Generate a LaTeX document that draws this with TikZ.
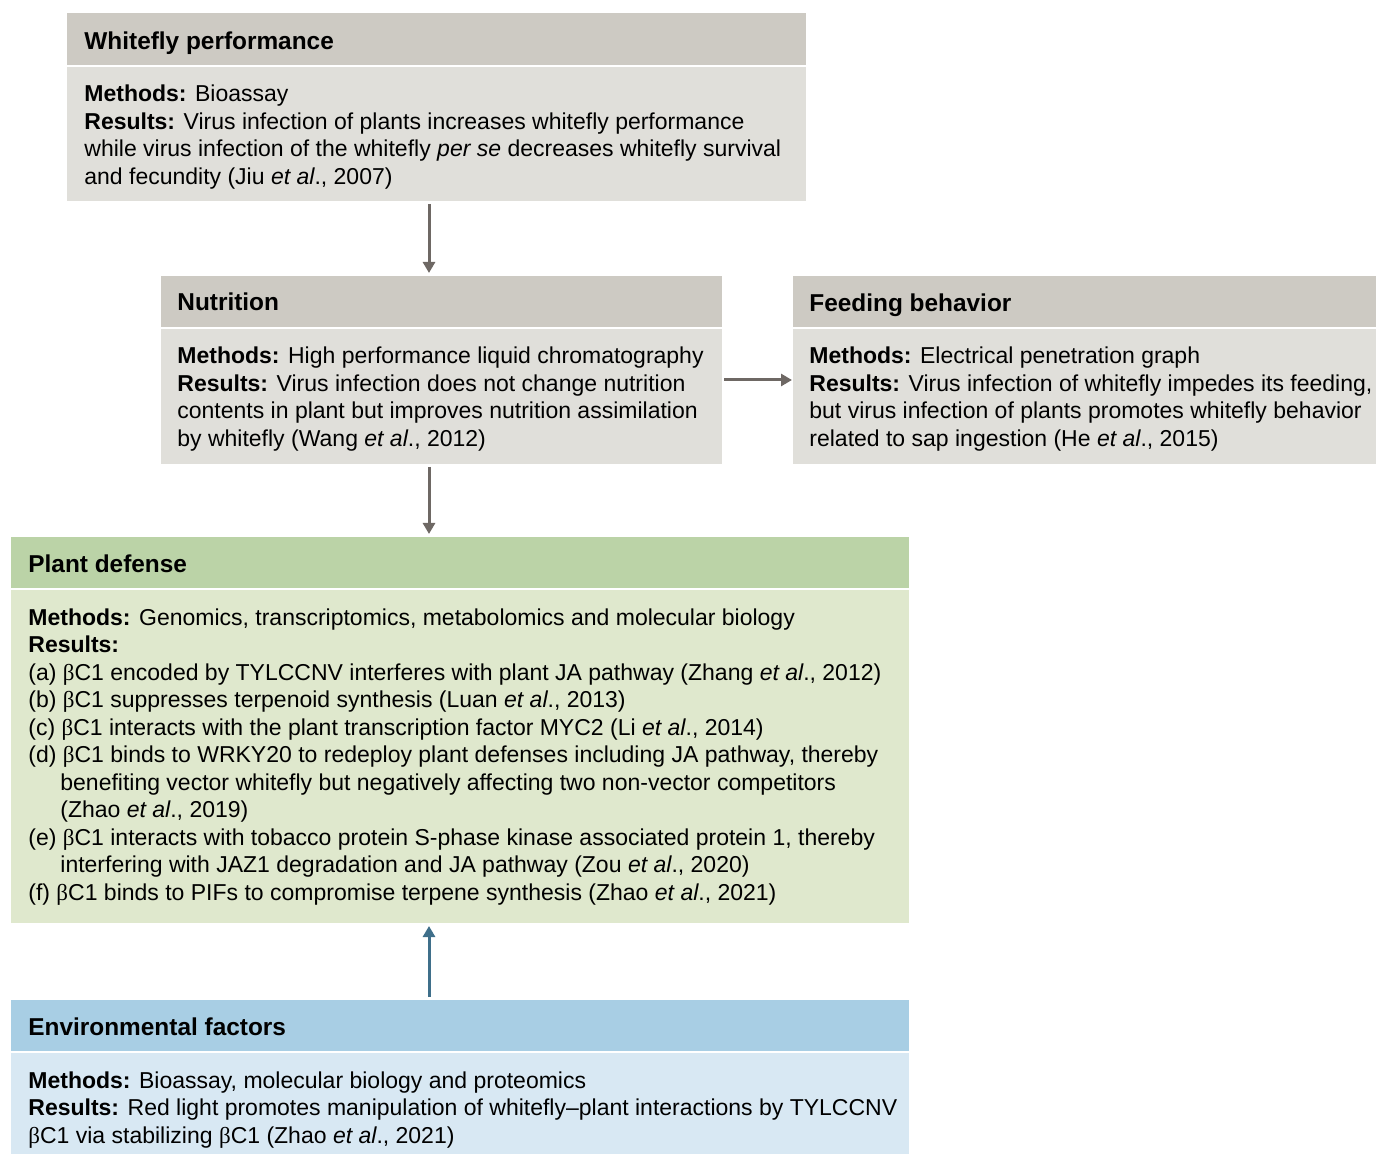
\documentclass[tikz,border=0pt]{standalone}
\usepackage{fontspec}
\setmainfont{Liberation Sans}
\newfontfamily\betafont{Liberation Serif}
\usetikzlibrary{arrows.meta}
\definecolor{hdgray}{RGB}{205,202,195}
\definecolor{bdgray}{RGB}{224,223,218}
\definecolor{hdgreen}{RGB}{187,211,167}
\definecolor{bdgreen}{RGB}{223,232,205}
\definecolor{hdblue}{RGB}{168,206,228}
\definecolor{bdblue}{RGB}{216,232,243}
\definecolor{arrgray}{RGB}{110,104,100}
\definecolor{arrblue}{RGB}{63,111,138}
\newcommand{\bC}{{\betafont β}C1}
\newcommand{\etal}{\textit{et al}.}
\begin{document}
\begin{tikzpicture}[x=0.5pt,y=-0.5pt,
  box/.style={anchor=north west,inner sep=0pt,outer sep=0pt},
  hd/.style={anchor=base west,inner sep=0pt,font=\fontsize{12.2}{14}\selectfont\bfseries},
  bd/.style={anchor=base west,inner sep=0pt,align=left,font=\fontsize{11.5}{13.75}\selectfont},
  arr/.style={line width=1.5pt,draw=arrgray,-{Triangle[length=5.5pt,width=6pt]}}]
\useasboundingbox (0,0) rectangle (1376,1154);
\node[box,fill=hdgray,minimum width=369.5pt,minimum height=26pt](wfh) at (67,13){};
\node[box,fill=bdgray,minimum width=369.5pt,minimum height=67pt](wfb) at (67,67){};
\node[box,fill=hdgray,minimum width=280.5pt,minimum height=25.5pt](nuh) at (161,276){};
\node[box,fill=bdgray,minimum width=280.5pt,minimum height=67.5pt](nub) at (161,329){};
\node[box,fill=hdgray,minimum width=291.5pt,minimum height=25.5pt](feh) at (793,276){};
\node[box,fill=bdgray,minimum width=291.5pt,minimum height=67.5pt](feb) at (793,329){};
\node[box,fill=hdgreen,minimum width=449pt,minimum height=25.5pt](pdh) at (11,537){};
\node[box,fill=bdgreen,minimum width=449pt,minimum height=166.5pt](pdb) at (11,590){};
\node[box,fill=hdblue,minimum width=449pt,minimum height=25.5pt](enh) at (11,1000){};
\node[box,fill=bdblue,minimum width=449pt,minimum height=50.5pt](enb) at (11,1053){};
\node[hd](wft) at (84,49.5){Whitefly performance};
\node[bd](wfx) at (84,184.5){\textbf{Methods:} Bioassay\\
\textbf{Results:} Virus infection of plants increases whitefly performance\\
while virus infection of the whitefly \textit{per se} decreases whitefly survival\\
and fecundity (Jiu \etal, 2007)};
\node[hd](nut) at (177,311){Nutrition};
\node[bd](nux) at (177,446.5){\textbf{Methods:} High performance liquid chromatography\\
\textbf{Results:} Virus infection does not change nutrition\\
contents in plant but improves nutrition assimilation\\
by whitefly (Wang \etal, 2012)};
\node[hd](fet) at (809,312){Feeding behavior};
\node[bd](fex) at (809,446.5){\textbf{Methods:} Electrical penetration graph\\
\textbf{Results:} Virus infection of whitefly impedes its feeding,\\
but virus infection of plants promotes whitefly behavior\\
related to sap ingestion (He \etal, 2015)};
\node[hd](pdt) at (28,572.5){Plant defense};
\node[bd](pdx) at (28,900){\textbf{Methods:} Genomics, transcriptomics, metabolomics and molecular biology\\
\textbf{Results:}\\
(a) \bC{} encoded by TYLCCNV interferes with plant JA pathway (Zhang \etal, 2012)\\
(b) \bC{} suppresses terpenoid synthesis (Luan \etal, 2013)\\
(c) \bC{} interacts with the plant transcription factor MYC2 (Li \etal, 2014)\\
(d) \bC{} binds to WRKY20 to redeploy plant defenses including JA pathway, thereby\\
\hspace*{16pt}benefiting vector whitefly but negatively affecting two non-vector competitors\\
\hspace*{16pt}(Zhao \etal, 2019)\\
(e) \bC{} interacts with tobacco protein S-phase kinase associated protein 1, thereby\\
\hspace*{16pt}interfering with JAZ1 degradation and JA pathway (Zou \etal, 2020)\\
(f) \bC{} binds to PIFs to compromise terpene synthesis (Zhao \etal, 2021)};
\node[hd](ent) at (28,1035){Environmental factors};
\node[bd](enx) at (28,1143){\textbf{Methods:} Bioassay, molecular biology and proteomics\\
\textbf{Results:} Red light promotes manipulation of whitefly–plant interactions by TYLCCNV\\
\bC{} via stabilizing \bC{} (Zhao \etal, 2021)};
\coordinate (ax) at (429,0);
\coordinate (ay) at (0,380);
\draw[arr]([yshift=-1.5pt]wfb.south -| ax)--([yshift=1.5pt]nuh.north -| ax);
\draw[arr]([xshift=1pt]nub.east |- ay)--([xshift=-0.5pt]feb.west |- ay);
\draw[arr]([yshift=-1.5pt]nub.south -| ax)--([yshift=1.5pt]pdh.north -| ax);
\draw[arr,draw=arrblue]([yshift=1.5pt]enh.north -| ax)--([yshift=-1.5pt]pdb.south -| ax);
\end{tikzpicture}
\end{document}
